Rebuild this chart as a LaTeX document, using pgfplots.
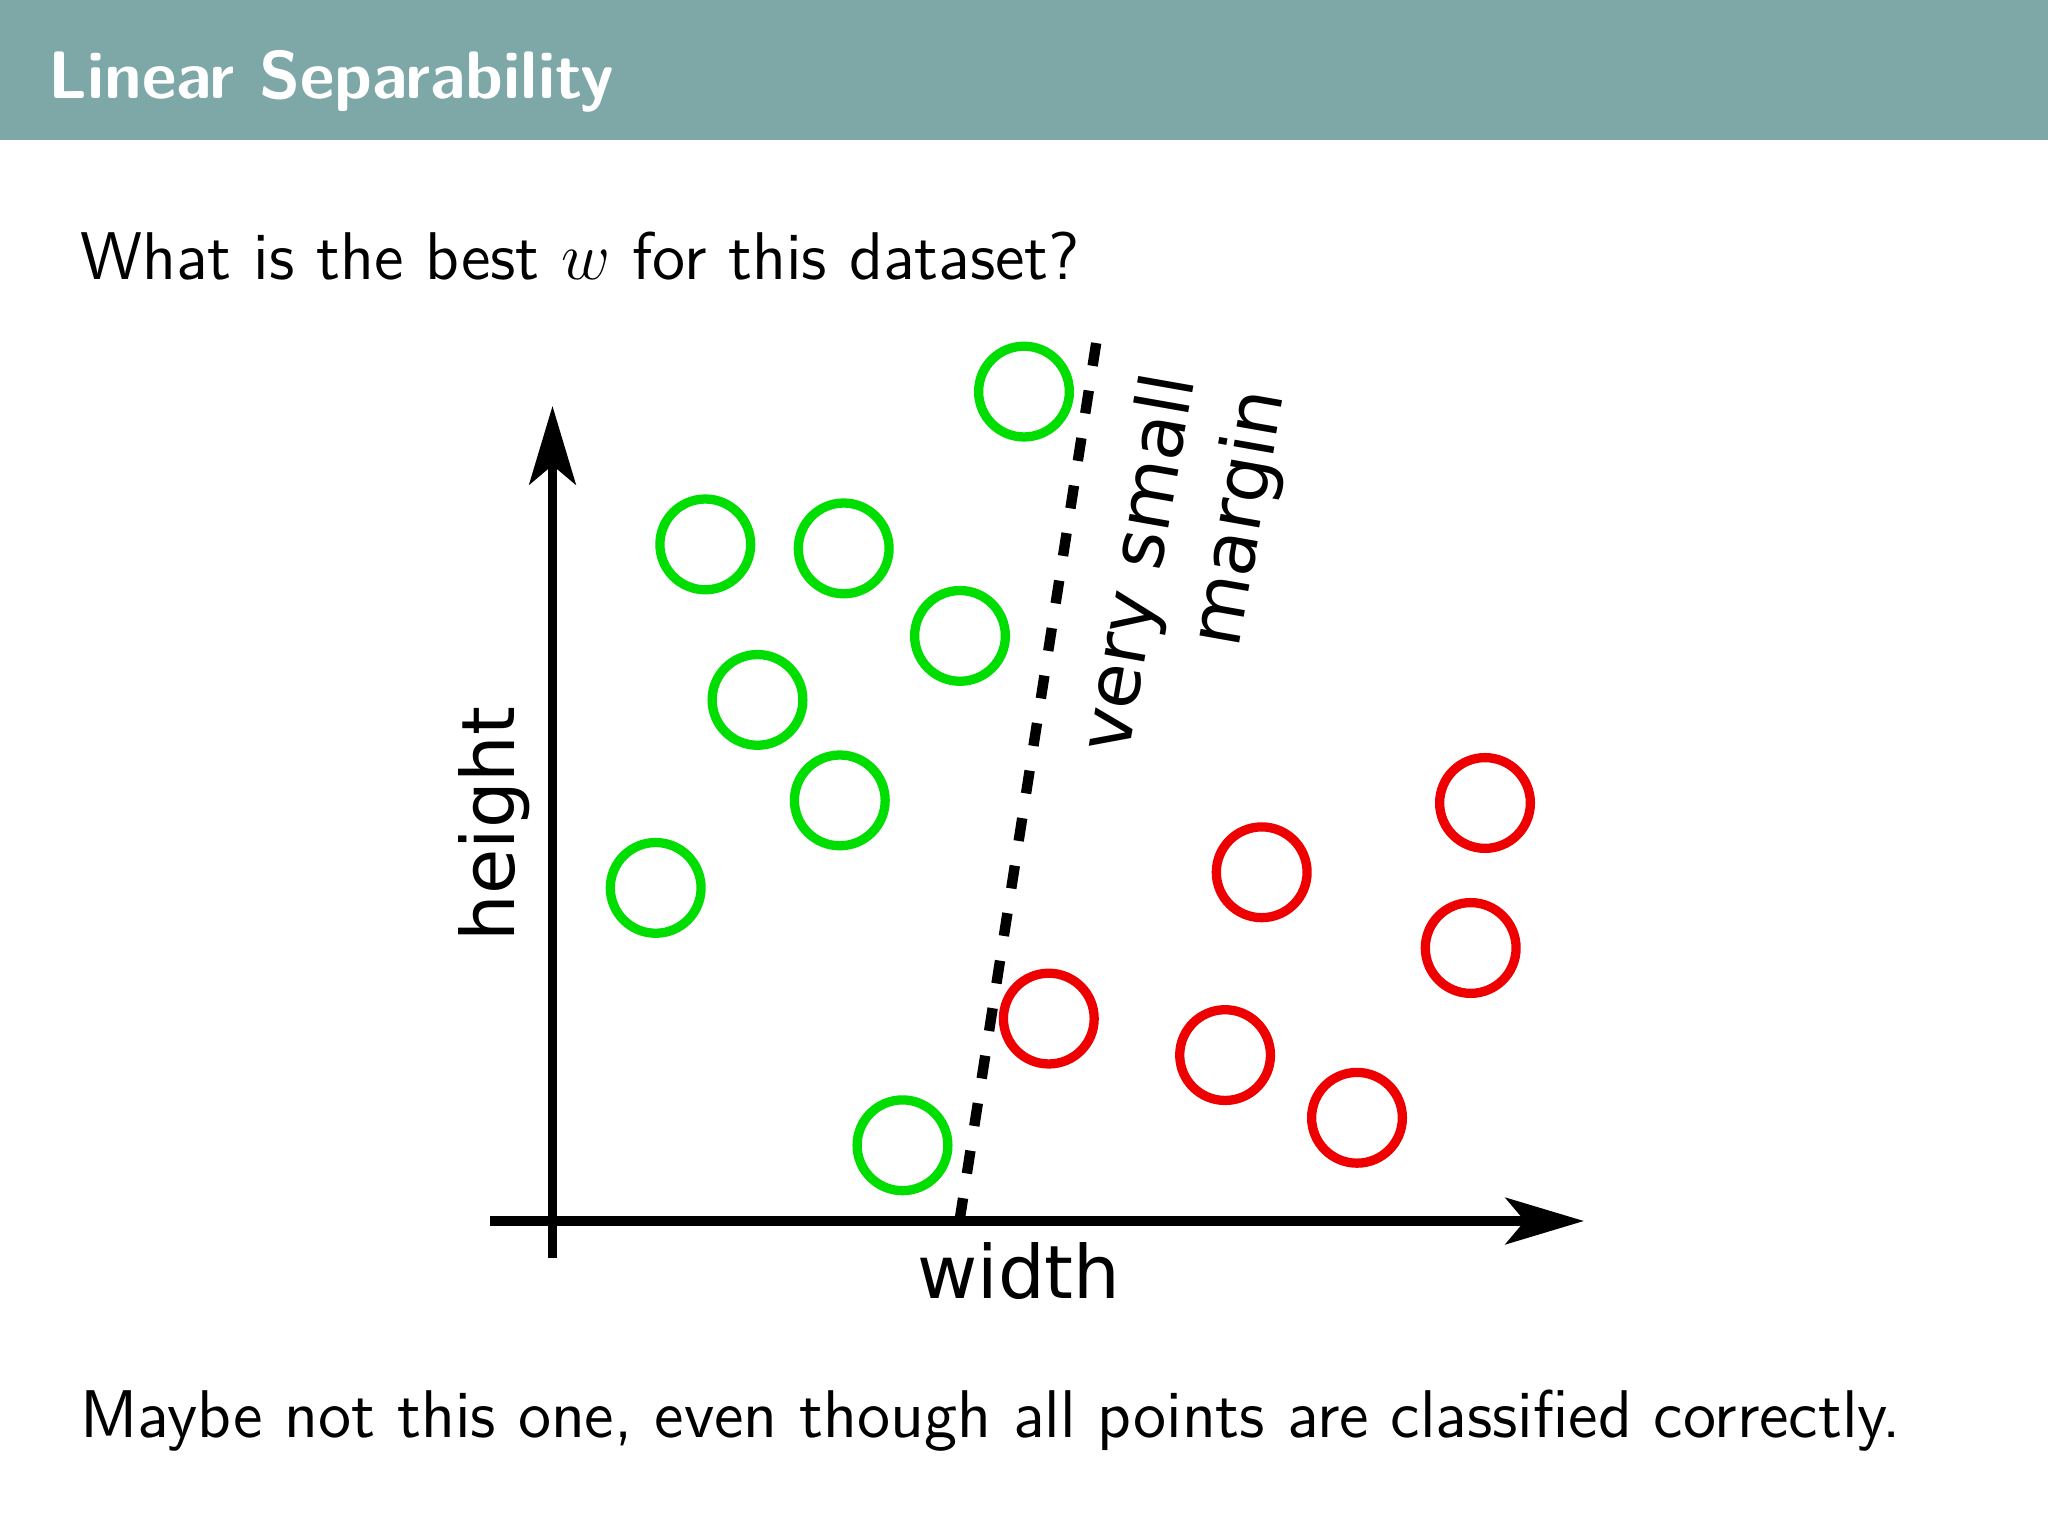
\documentclass[border=0pt]{standalone}
\usepackage{fontspec}
\newfontfamily\dejavu{DejaVu Sans}
\usepackage{pgfplots}
\pgfplotsset{compat=1.18}
\usetikzlibrary{arrows.meta}
\definecolor{titlebar}{HTML}{7EA7A7}
\definecolor{ptgreen}{HTML}{00DD00}
\definecolor{ptred}{HTML}{EE0000}

% one pixel of the 2048x1536 slide is 0.0625mm
\begin{document}
\begin{tikzpicture}
\begin{scope}[x=0.0625mm,y=-0.0625mm]
  \fill[white] (0,0) rectangle (2048,1536);
  \path[use as bounding box] (0,0) rectangle (2048,1536);
  \fill[titlebar] (0,0) rectangle (2048,140);
  \node[anchor=base west, inner sep=0, text=white,
        font=\fontsize{11.95}{15}\selectfont\sffamily\bfseries] at (47,98) {Linear Separability};
  \node[anchor=base west, inner sep=0,
        font=\fontsize{12}{14}\selectfont\sffamily] at (79,279) {What is the best $w$ for this dataset?};
  \node[anchor=base west, inner sep=0,
        font=\fontsize{12}{14}\selectfont\sffamily] at (79,1437) {Maybe not this one, even though all points are classified correctly.};
  % axes of the sketch
  \draw[line width=1.65pt, -{Stealth[length=4.9mm,width=2.9mm,inset=1.2mm]}] (490,1221) -- (1584,1221);
  \draw[line width=1.65pt, -{Stealth[length=4.9mm,width=2.9mm,inset=1.2mm]}] (552.5,1258) -- (552.5,406);
  \begin{scope}[every node/.style={inner sep=0, font=\fontsize{13.1}{15}\selectfont\dejavu}]
    \node[rotate=90, anchor=base] at (514,824) {height};
    \node[anchor=base] at (1019,1298) {width};
    \node[rotate=80, anchor=base east] at (1195,378) {very small};
    \node[rotate=80, anchor=base east] at (1284,393) {margin};
  \end{scope}
\end{scope}
\begin{axis}[at={(34.53mm,-76.31mm)}, anchor=origin,
  x=0.0625mm, y=0.0625mm,
  xmin=-70, xmax=1040, ymin=-45, ymax=820,
  hide axis, clip=false]
% separating line
\addplot[black, line width=1.85pt, dash pattern=on 4.1pt off 4.45pt] coordinates
  {(407,0) (544,880)};
% class A
\addplot[only marks, mark=o, mark size=8.07pt, ptgreen, mark options={line width=1.65pt}] coordinates
  {(471.5,829.4) (152.8,676.6) (291.2,672.6) (407.5,585.1)
   (205.0,521.1) (287.3,420.6) (103.2,333.1) (350.0,75.7)};
% class B
\addplot[only marks, mark=o, mark size=8.07pt, ptred, mark options={line width=1.65pt}] coordinates
  {(932.5,418.0) (709.2,348.7) (918.2,273.0) (496.3,202.4)
   (672.6,165.9) (804.5,103.2)};
\end{axis}
\end{tikzpicture}
\end{document}
